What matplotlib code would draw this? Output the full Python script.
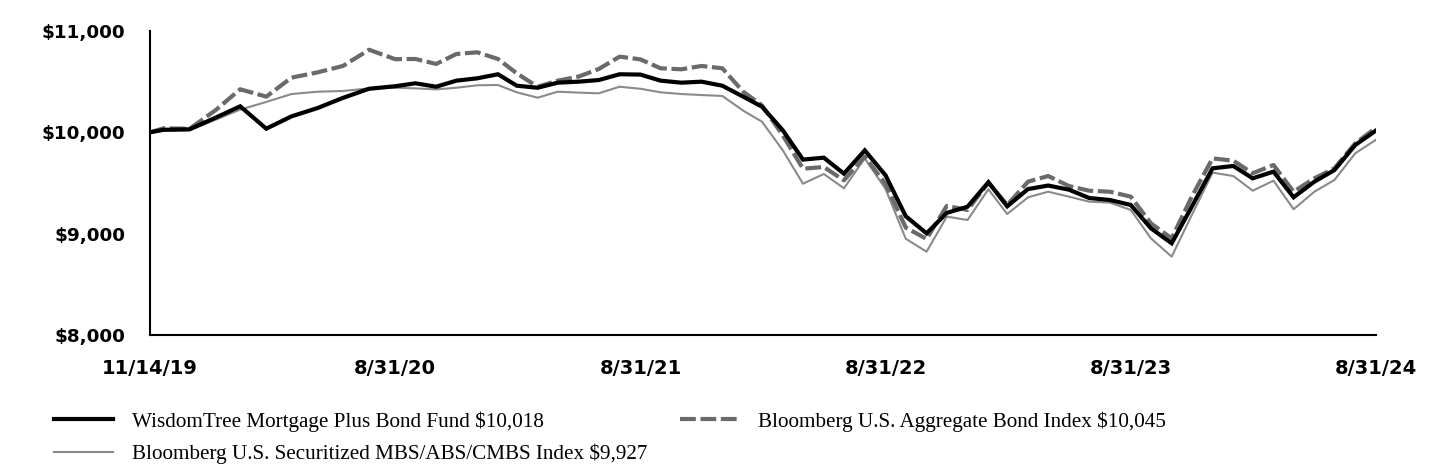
import numpy as np
import pandas as pd
import matplotlib
matplotlib.use("Agg")
import matplotlib.pyplot as plt
from matplotlib.ticker import FuncFormatter

# ---- data ----
start_date = "2019-11-14"
dates = pd.DatetimeIndex([pd.Timestamp(start_date)]).append(
    pd.date_range("2019-11-30", "2024-08-31", freq="ME"))

tick_dates = ["2019-11-14", "2020-08-31", "2021-08-31", "2022-08-31", "2023-08-31", "2024-08-31"]
tick_labels = ["11/14/19", "8/31/20", "8/31/21", "8/31/22", "8/31/23", "8/31/24"]

fund = [10000, 10025, 10030, 10145, 10257, 10036, 10158, 10240, 10340, 10430,
        10455, 10484, 10450, 10510, 10533, 10573, 10460, 10440, 10490, 10500,
        10516, 10573, 10570, 10510, 10490, 10500, 10460, 10352, 10253, 10020,
        9731, 9750, 9592, 9822, 9575, 9172, 9003, 9205, 9266, 9508,
        9270, 9440, 9475, 9434, 9352, 9332, 9283, 9053, 8905, 9266,
        9645, 9668, 9546, 9612, 9359, 9513, 9628, 9875, 10018]

aggregate = [10000, 10040, 10035, 10220, 10425, 10352, 10540, 10592, 10655, 10815,
             10722, 10724, 10675, 10773, 10790, 10724, 10582, 10450, 10510, 10550,
             10625, 10747, 10720, 10632, 10622, 10655, 10632, 10401, 10266, 9970,
             9641, 9658, 9526, 9760, 9490, 9060, 8948, 9273, 9234, 9503,
             9283, 9513, 9569, 9470, 9424, 9414, 9365, 9102, 8954, 9365,
             9743, 9720, 9596, 9678, 9414, 9546, 9645, 9891, 10045]

securitized = [10000, 10015, 10020, 10125, 10224, 10300, 10378, 10401, 10408, 10434,
               10440, 10434, 10424, 10440, 10464, 10467, 10395, 10342, 10401, 10392,
               10385, 10450, 10430, 10395, 10378, 10368, 10359, 10214, 10105, 9822,
               9493, 9589, 9448, 9743, 9440, 8950, 8822, 9168, 9135, 9438,
               9194, 9359, 9414, 9365, 9316, 9306, 9234, 8954, 8773, 9184,
               9602, 9569, 9424, 9523, 9241, 9414, 9530, 9793, 9927]

series_labels = ["WisdomTree Mortgage Plus Bond Fund $10,018",
                 "Bloomberg U.S. Aggregate Bond Index $10,045",
                 "Bloomberg U.S. Securitized MBS/ABS/CMBS Index $9,927"]

y_ticks = [8000, 9000, 10000, 11000]

# ---- x scale: tick dates evenly spaced, dates placed proportionally between them ----
tick_nums = pd.to_datetime(tick_dates).values.astype("int64").astype(float)
date_nums = dates.values.astype("int64").astype(float)
tick_pos = np.arange(len(tick_dates))
x = np.interp(date_nums, tick_nums, tick_pos)

W, H = 1440, 468
fig = plt.figure(figsize=(W / 100, H / 100), dpi=100)
ax = fig.add_axes([150 / W, 1 - 335 / H, 1226 / W, 304 / H])

l_fund, = ax.plot(x, fund, color="#000000", lw=3.0, solid_joinstyle="miter", zorder=4)
l_agg, = ax.plot(x, aggregate, color="#6a6a6a", lw=3.0, dashes=(3.8, 1.1), zorder=3)
l_sec, = ax.plot(x, securitized, color="#8a8a8a", lw=1.5, zorder=2)

ax.set_xlim(0, tick_pos[-1])
ax.set_ylim(y_ticks[0], y_ticks[-1])
ax.set_yticks(y_ticks)
ax.yaxis.set_major_formatter(FuncFormatter(lambda v, p: f"${v:,.0f}"))
ax.set_xticks(tick_pos)
ax.set_xticklabels(tick_labels)

for s in ["top", "right"]:
    ax.spines[s].set_visible(False)
for s in ["left", "bottom"]:
    ax.spines[s].set_linewidth(1.5)
    ax.spines[s].set_color("black")

ax.tick_params(axis="y", length=0, pad=18, labelsize=13.2)
ax.tick_params(axis="x", length=0, pad=17, labelsize=14)
for lab in ax.get_yticklabels() + ax.get_xticklabels():
    lab.set_fontweight("bold")
    lab.set_fontfamily("DejaVu Sans")

fs = 15.2
leg = fig.legend([l_fund, l_sec, l_agg],
                 [series_labels[0], series_labels[2], series_labels[1]],
                 ncol=2, loc="upper left", bbox_to_anchor=(35 / W, 1 - 392 / H),
                 frameon=False, prop={"family": "Liberation Serif", "size": fs},
                 handlelength=2.8, handletextpad=0.9, columnspacing=1.55,
                 labelspacing=0.57)

fig.savefig("out.png", dpi=100)
